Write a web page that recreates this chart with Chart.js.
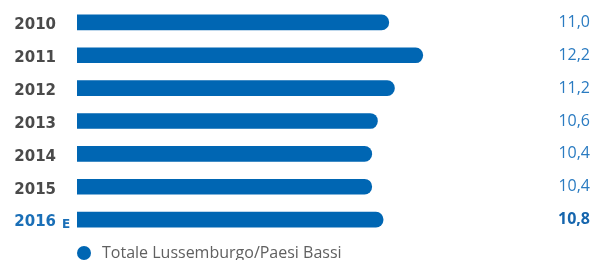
<!DOCTYPE html>
<html>
<head>
<meta charset="utf-8">
<script src="https://cdn.jsdelivr.net/npm/chart.js@4/dist/chart.umd.min.js"></script>
<style>
html,body{margin:0;padding:0;background:#fff;}
#wrap{width:593px;height:260px;position:relative;}
</style>
</head>
<body>
<div id="wrap"><canvas id="c" width="593" height="260"></canvas></div>
<script>
const categories = ["2010", "2011", "2012", "2013", "2014", "2015", "2016"];
const categorySuffix = ["", "", "", "", "", "", "E"];
const values = [11.0, 12.2, 11.2, 10.6, 10.4, 10.4, 10.8];
const seriesLabel = "Totale Lussemburgo/Paesi Bassi";

const BLUE = "#0066b3";
const GREY = "#4a4a4a";
const LABEL_BLUE = "#1a6fb7";
const VALUE_BLUE = "#2a7bc1";
const VALUE_BOLD = "#1565ad";

const fmt = v => v.toFixed(1).replace('.', ',');

const customText = {
  id: 'customText',
  afterDatasetsDraw(chart) {
    const ctx = chart.ctx;
    const y = chart.scales.y;
    const area = chart.chartArea;
    const last = categories.length - 1;
    ctx.save();
    ctx.textBaseline = 'middle';
    categories.forEach((c, i) => {
      const py = y.getPixelForValue(i);
      ctx.textAlign = 'right';
      ctx.font = 'bold 15px "DejaVu Sans"';
      ctx.fillStyle = i === last ? LABEL_BLUE : GREY;
      ctx.fillText(c, 56, py + 3);
      if (categorySuffix[i]) {
        ctx.textAlign = 'left';
        ctx.font = 'bold 12px "DejaVu Sans"';
        ctx.fillText(categorySuffix[i], 62, py + 5);
      }
      ctx.textAlign = 'right';
      ctx.font = (i === last ? 'bold ' : '') + '16px "Open Sans"';
      ctx.fillStyle = i === last ? VALUE_BOLD : VALUE_BLUE;
      ctx.fillText(fmt(values[i]), area.right, py);
    });
    const ly = 253;
    ctx.beginPath();
    ctx.arc(84, ly, 7, 0, Math.PI * 2);
    ctx.fillStyle = BLUE;
    ctx.fill();
    ctx.textAlign = 'left';
    ctx.font = '16px "Open Sans"';
    ctx.fillStyle = '#606060';
    ctx.fillText(seriesLabel, 102, ly);
    ctx.restore();
  }
};

new Chart(document.getElementById('c'), {
  type: 'bar',
  data: {
    labels: categories,
    datasets: [{
      label: seriesLabel,
      data: values,
      backgroundColor: BLUE,
      barThickness: 15,
      borderRadius: {topLeft: 0, bottomLeft: 0, topRight: 8, bottomRight: 8},
      borderSkipped: false
    }]
  },
  options: {
    indexAxis: 'y',
    responsive: false,
    animation: false,
    devicePixelRatio: 1,
    layout: {padding: {left: 77, right: 3, top: 6, bottom: 24}},
    plugins: {legend: {display: false}, tooltip: {enabled: false}},
    scales: {
      x: {display: false, min: 0, max: 18.1},
      y: {display: false, grid: {display: false}}
    }
  },
  plugins: [customText]
});
</script>
</body>
</html>
